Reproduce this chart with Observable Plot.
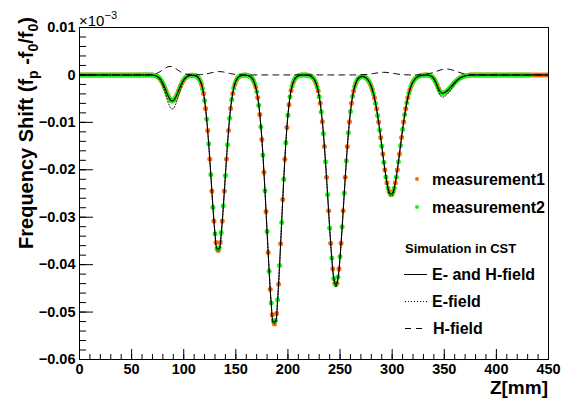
<!DOCTYPE html>
<html><head><meta charset="utf-8">
<script src="https://cdn.jsdelivr.net/npm/d3@7"></script>
<script src="https://cdn.jsdelivr.net/npm/@observablehq/plot@0.6"></script>
<style>body{margin:0;background:#fff;}</style>
</head><body><div id="chart"></div>
<script>
// ---- data (frequency shift in units of 1e-3) ----
const simZ = [0, ...d3.range(60, 381, 2), 450];
const simEH = [0,
 0,0,0,0,0,0,
 -0.10,-0.24,-0.53,-1.02,-1.79,-2.78,-3.89,-4.85,-5.42,-5.42,-4.85,-3.89,-2.78,-1.79,-1.02,-0.53,-0.24,-0.10,-0.07,
 -0.09,-0.23,-0.59,-1.34,-2.80,-5.32,-9.23,-14.60,-21.08,-27.77,-33.37,-36.58,-36.58,-33.37,-27.77,-21.08,-14.60,-9.23,-5.32,-2.80,-1.34,-0.59,-0.23,-0.09,-0.03,
 -0.06,-0.15,-0.37,-0.84,-1.78,-3.49,-6.35,-10.75,-16.87,-24.55,-33.15,-41.5,-48.25,-52.0,-51.9,-47.6,-40.06,-30.9,-21.86,-14.18,-8.45,-4.60,-2.30,-1.06,-0.45,-0.17,-0.06,0,-0.02,
 -0.04,-0.11,-0.26,-0.60,-1.27,-2.49,-4.55,-7.75,-12.32,-18.21,-25.07,-32.16,-38.43,-42.75,-44.3,-42.75,-38.43,-32.16,-25.07,-18.21,-12.32,-7.75,-4.55,-2.49,-1.27,-0.65,-0.37,-0.34,-0.49,
 -0.83,-1.46,-2.45,-3.90,-5.89,-8.46,-11.54,-14.94,-18.37,-21.45,-23.78,-25.04,-25.04,-23.78,-21.45,-18.37,-14.94,-11.54,-8.46,-5.89,-3.90,-2.45,-1.46,-0.83,-0.45,-0.23,-0.11,-0.05,
 0,-0.03,-0.11,-0.33,-0.79,-1.58,-2.59,-3.49,-3.85,-3.76,-3.49,-3.08,-2.59,-2.08,-1.58,-1.15,-0.79,-0.52,-0.33,-0.19,-0.11,-0.06,0,0,0,
0];
const simE = [0,
 0,0,0,0,0,0,
 -0.13,-0.31,-0.69,-1.34,-2.34,-3.64,-5.09,-6.35,-7.10,-7.10,-6.35,-5.09,-3.64,-2.34,-1.34,-0.69,-0.31,-0.13,-0.08,
 -0.09,-0.23,-0.59,-1.34,-2.80,-5.32,-9.23,-14.60,-21.08,-27.77,-33.6,-37.0,-37.0,-33.6,-27.77,-21.08,-14.60,-9.23,-5.32,-2.80,-1.34,-0.59,-0.23,-0.09,-0.03,
 -0.06,-0.15,-0.37,-0.84,-1.78,-3.49,-6.35,-10.75,-16.87,-24.55,-33.15,-41.5,-48.5,-52.4,-52.3,-47.9,-40.06,-30.9,-21.86,-14.18,-8.45,-4.60,-2.30,-1.06,-0.45,-0.17,-0.06,0,-0.02,
 -0.04,-0.11,-0.26,-0.60,-1.27,-2.49,-4.55,-7.75,-12.32,-18.21,-25.07,-32.16,-38.43,-43.2,-44.8,-43.2,-38.43,-32.16,-25.07,-18.21,-12.32,-7.75,-4.55,-2.49,-1.27,-0.65,-0.37,-0.34,-0.49,
 -0.83,-1.46,-2.45,-3.90,-5.89,-8.46,-11.54,-14.94,-18.37,-21.45,-24.2,-25.5,-25.5,-24.2,-21.45,-18.37,-14.94,-11.54,-8.46,-5.89,-3.90,-2.45,-1.46,-0.83,-0.45,-0.23,-0.11,-0.05,
 0,-0.04,-0.13,-0.40,-0.96,-1.93,-3.16,-4.26,-4.70,-4.59,-4.26,-3.76,-3.16,-2.54,-1.93,-1.40,-0.96,-0.63,-0.40,-0.23,-0.13,-0.07,0,0,0,
0];
const simH = [0,
 0,0,0,0,0.05,0.09,0.18,0.32,0.52,0.79,1.09,1.39,1.64,1.78,1.78,1.64,1.39,1.09,0.79,0.52,0.32,0.18,0.09,0.04,0.02,
 0.02,0.03,0.04,0.06,0.09,0.15,0.23,0.32,0.42,0.53,0.62,0.68,0.70,0.68,0.62,0.53,0.42,0.32,0.23,0.15,0.09,0.06,0.03,0,0,
 0,0,0,0,0,0,0,0,0,0,0,0,0,0,0,0,0,0,0,0,0,0,0,0,0,0,0,0,0,
 0,0,0,0,0,0,0,0,0,0,0,0,0,0,0,0,0,0,0,0,0,0,0,0,0,0.01,0.03,0.05,0.07,
 0.11,0.16,0.23,0.30,0.37,0.44,0.50,0.54,0.55,0.54,0.50,0.44,0.37,0.30,0.23,0.16,0.11,0.07,0.04,0.02,0.01,0,0,0,0.01,0.03,0.05,0.09,
 0.14,0.21,0.30,0.42,0.56,0.72,0.88,1.02,1.14,1.22,1.25,1.22,1.14,1.02,0.88,0.72,0.56,0.42,0.30,0.21,0.14,0.09,0.05,0.03,0.01,
0];

const meas1Z = d3.range(1, 450, 2);
const meas1 = [
 0,0,0,0,0,0,0,0,0,0,0,0,0,0,0,0,0,0,0,0,0,0,0,0,0,0,0,0,0,0,0,0,0,0,0,
 -0.06,-0.16,-0.36,-0.74,-1.37,-2.26,-3.34,-4.40,-5.20,-5.5,-5.20,-4.40,-3.34,-2.26,-1.37,-0.74,-0.36,-0.16,-0.06,-0.07,
 -0.14,-0.38,-0.90,-1.96,-3.90,-7.09,-11.74,-17.75,-24.48,-30.79,-35.34,-37.0,-35.34,-30.79,-24.48,-17.75,-11.74,-7.09,-3.90,-1.96,-0.90,-0.38,-0.14,-0.05,-0.03,
 -0.09,-0.24,-0.56,-1.23,-2.51,-4.75,-8.35,-13.60,-20.54,-28.80,-37.45,-45.18,-50.57,-52.5,-50.28,-44.16,-35.58,-26.28,-17.80,-11.07,-6.30,-3.30,-1.58,-0.69,-0.28,-0.10,-0.03,0,-0.03,
 -0.07,-0.17,-0.40,-0.88,-1.79,-3.39,-5.99,-9.87,-15.10,-21.57,-28.65,-35.47,-40.89,-43.91,-43.91,-40.89,-35.47,-28.65,-21.57,-15.10,-9.87,-5.99,-3.39,-1.79,-0.88,-0.48,-0.33,-0.40,-0.65,
 -1.11,-1.91,-3.11,-4.83,-7.11,-9.94,-13.21,-16.67,-19.97,-22.73,-24.56,-25.2,-24.56,-22.73,-19.97,-16.67,-13.21,-9.94,-7.11,-4.83,-3.11,-1.91,-1.11,-0.61,-0.32,-0.16,-0.08,-0.03,
 -0.01,-0.06,-0.19,-0.52,-1.15,-2.08,-3.08,-3.76,-3.83,-3.64,-3.30,-2.85,-2.34,-1.82,-1.36,-0.96,-0.65,-0.41,-0.25,-0.15,-0.08,-0.04,
 0,0,0,0,0,0,0,0,0,0,0,0,0,0,0,0,0,0,0,0,0,0,0,0,0,0,0,0,0,0,0,0,0,0,0,0,0];

const meas2Z = d3.range(0, 433, 2);
const meas2 = [
 0,0,0,0,0,0,0,0,0,0,0,0,0,0,0,0,0,0,0,0,0,0,0,0,0,0,0,0,0,0,0,0,0,0,0,0,
 -0.12,-0.25,-0.55,-1.05,-1.80,-2.80,-3.90,-4.88,-5.45,-5.40,-4.83,-3.86,-2.76,-1.80,-1.03,-0.55,-0.25,-0.11,-0.07,
 -0.10,-0.24,-0.60,-1.36,-2.85,-5.40,-9.30,-14.5,-21.0,-27.9,-33.5,-36.7,-36.5,-33.2,-27.6,-21.2,-14.7,-9.15,-5.25,-2.78,-1.32,-0.58,-0.22,-0.09,-0.03,
 -0.06,-0.15,-0.38,-0.86,-1.80,-3.52,-6.40,-10.9,-16.9,-24.4,-33.0,-41.4,-48.1,-51.9,-51.8,-47.4,-40.2,-31.1,-22.0,-14.3,-8.5,-4.62,-2.31,-1.05,-0.44,-0.17,-0.06,0,-0.02,
 -0.04,-0.11,-0.27,-0.62,-1.30,-2.52,-4.60,-7.80,-12.4,-18.3,-25.2,-32.3,-38.6,-42.9,-44.2,-42.6,-38.3,-32.0,-24.9,-18.1,-12.2,-7.70,-4.50,-2.46,-1.25,-0.64,-0.37,-0.34,-0.50,
 -0.85,-1.48,-2.48,-3.95,-5.95,-8.55,-11.6,-15.0,-18.4,-21.5,-23.8,-25.0,-25.1,-23.9,-21.5,-18.3,-14.9,-11.5,-8.40,-5.85,-3.87,-2.43,-1.45,-0.82,-0.45,-0.23,-0.11,-0.05,
 0,-0.03,-0.12,-0.35,-0.82,-1.62,-2.64,-3.54,-3.90,-3.80,-3.52,-3.10,-2.61,-2.10,-1.60,-1.16,-0.80,-0.53,-0.34,-0.20,-0.11,-0.06,0,
 0,0,0,0,0,0,0,0,0,0,0,0,0,0,0,0,0,0,0,0,0,0,0,0,0,0,0,0];

const xTicks = [0, 50, 100, 150, 200, 250, 300, 350, 400, 450];
const yTicks = [-0.06, -0.05, -0.04, -0.03, -0.02, -0.01, 0, 0.01];
const xMinor = d3.range(0, 451, 10);
const yMinor = d3.range(-60, 11, 2).map(d => d / 1000);

const check = [[simEH, simZ], [simE, simZ], [simH, simZ], [meas1, meas1Z], [meas2, meas2Z]];
check.forEach(([a, b], i) => { if (a.length !== b.length) throw new Error("length mismatch " + i + ": " + a.length + " vs " + b.length); });

const rows = (zs, vs) => zs.map((z, i) => ({z, v: vs[i] / 1000}));
const dEH = rows(simZ, simEH), dE = rows(simZ, simE), dH = rows(simZ, simH);
const dM1 = rows(meas1Z, meas1), dM2 = rows(meas2Z, meas2);

const W = 562, H = 400, mL = 79, mR = 14, mT = 27, mB = 41;
const pw = W - mL - mR, ph = H - mT - mB;
const FONT = "'Liberation Sans', Arial, Helvetica, sans-serif";
const fmtY = d => d === 0 ? "0" : d3.format(".2f")(d);

const svg = Plot.plot({
  width: W, height: H,
  marginLeft: mL, marginRight: mR, marginTop: mT, marginBottom: mB,
  style: {fontFamily: FONT, background: "#fff", overflow: "visible"},
  x: {domain: [0, 450]},
  y: {domain: [-0.06, 0.01]},
  marks: [
    Plot.dot(dM1, {x: "z", y: "v", r: 2.5, fill: "#ff6a10", clip: true}),
    Plot.dot(dM2, {x: "z", y: "v", r: 2.5, fill: "#1cf01c", clip: true}),
    Plot.line(dE, {x: "z", y: "v", stroke: "#000", strokeWidth: 1, strokeDasharray: "1,2", curve: "catmull-rom"}),
    Plot.line(dH, {x: "z", y: "v", stroke: "#000", strokeWidth: 1, strokeDasharray: "6,5", curve: "catmull-rom"}),
    Plot.line(dEH, {x: "z", y: "v", stroke: "#000", strokeWidth: 1.1, curve: "catmull-rom"}),
    Plot.tickY(yTicks, {y: d => d, insetRight: pw - 14, stroke: "#000"}),
    Plot.tickY(yMinor, {y: d => d, insetRight: pw - 7, stroke: "#000"}),
    Plot.tickX(xTicks, {x: d => d, insetTop: ph - 10, stroke: "#000"}),
    Plot.tickX(xMinor, {x: d => d, insetTop: ph - 5, stroke: "#000"}),
    Plot.axisY({ticks: yTicks, tickSize: 0, tickPadding: 4, tickFormat: fmtY, fontSize: 14.5, fontWeight: "bold", label: null, fill: "#000"}),
    Plot.axisX({ticks: xTicks, tickSize: 0, tickPadding: 4, fontSize: 14.5, fontWeight: "bold", label: null, fill: "#000"}),
    Plot.frame({stroke: "#000", strokeWidth: 1})
  ]
});
document.getElementById("chart").appendChild(svg);

// ---- titles & legend ----
const s = d3.select(svg);
const yt = s.append("text")
  .attr("transform", "translate(33,17) rotate(-90)")
  .attr("text-anchor", "end")
  .attr("font-family", FONT).attr("font-weight", "bold").attr("font-size", 20).attr("fill", "#000");
yt.append("tspan").text("Frequency Shift (f");
yt.append("tspan").attr("dy", 5).attr("font-size", 14).text("p");
yt.append("tspan").attr("dy", -5).text(" -f");
yt.append("tspan").attr("dy", 5).attr("font-size", 14).text("0");
yt.append("tspan").attr("dy", -5).text("/f");
yt.append("tspan").attr("dy", 5).attr("font-size", 14).text("0");
yt.append("tspan").attr("dy", -5).text(")");

const mult = s.append("text").attr("x", 79).attr("y", 26).attr("text-anchor", "start")
  .attr("font-family", FONT).attr("font-size", 15).attr("fill", "#000");
mult.append("tspan").text("×10");
mult.append("tspan").attr("dy", -7).attr("font-size", 11).text("−3");

s.append("text").attr("x", 548).attr("y", 394).attr("text-anchor", "end")
  .attr("font-family", FONT).attr("font-weight", "bold").attr("font-size", 19).attr("fill", "#000")
  .text("Z[mm]");

const lg = s.append("g").attr("font-family", FONT).attr("font-weight", "bold").attr("fill", "#000").attr("text-anchor", "start");
lg.append("circle").attr("cx", 417).attr("cy", 179).attr("r", 2).attr("fill", "#ff6a10");
lg.append("text").attr("x", 432).attr("y", 185).attr("font-size", 16).text("measurement1");
lg.append("circle").attr("cx", 417).attr("cy", 207).attr("r", 2).attr("fill", "#1cf01c");
lg.append("text").attr("x", 432).attr("y", 213).attr("font-size", 16).text("measurement2");
lg.append("text").attr("x", 405).attr("y", 253).attr("font-size", 13).text("Simulation in CST");
lg.append("line").attr("x1", 404).attr("x2", 427).attr("y1", 274.5).attr("y2", 274.5).attr("stroke", "#000");
lg.append("text").attr("x", 432).attr("y", 280).attr("font-size", 16).text("E- and H-field");
lg.append("line").attr("x1", 405).attr("x2", 427).attr("y1", 301.5).attr("y2", 301.5).attr("stroke", "#000").attr("stroke-dasharray", "1,2");
lg.append("text").attr("x", 432).attr("y", 307).attr("font-size", 16).text("E-field");
lg.append("line").attr("x1", 405).attr("x2", 422).attr("y1", 328.5).attr("y2", 328.5).attr("stroke", "#000").attr("stroke-dasharray", "6,5");
lg.append("text").attr("x", 433).attr("y", 334).attr("font-size", 16).text("H-field");
</script>
</body></html>
